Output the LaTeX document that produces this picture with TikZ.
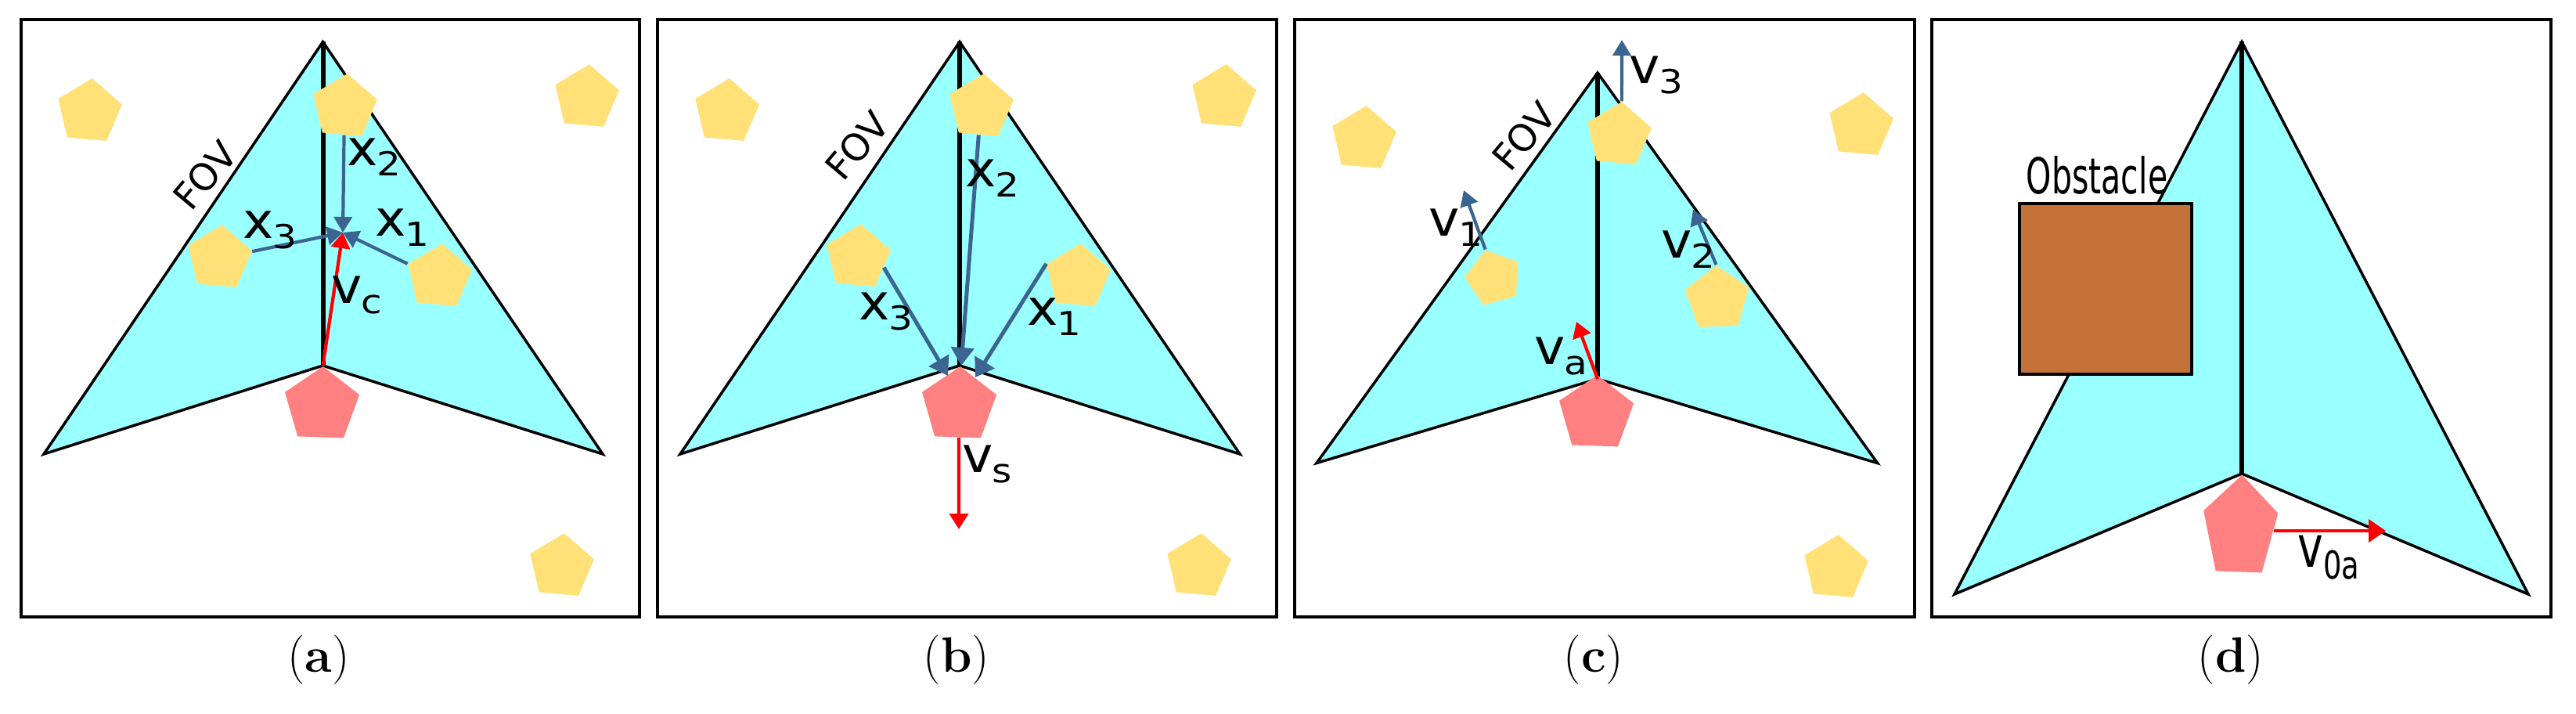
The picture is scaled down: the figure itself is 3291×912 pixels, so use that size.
\documentclass[tikz,border=0pt]{standalone}
\usepackage{fontspec}
\usepackage{xcolor}
\usetikzlibrary{shapes.geometric, arrows.meta}
\newfontfamily\labelfont{DejaVu Sans}
\definecolor{fovcyan}{RGB}{153,255,255}
\definecolor{neighboryellow}{RGB}{255,225,120}
\definecolor{agentred}{RGB}{255,128,128}
\definecolor{speedblue}{RGB}{59,101,144}
\definecolor{obstaclebrown}{RGB}{196,114,56}
\newcommand{\sublab}[2]{\scalebox{1.05}[1]{#1}\kern-0.02em\raisebox{-0.2em}{\scalebox{1.15}[1]{\fontsize{12}{12}\selectfont #2}}}
\tikzset{
    panelframe/.style={draw=black, line width=0.38mm},
    fovkite/.style={draw=black, fill=fovcyan, line width=0.35mm, line join=miter},
    fovaxis/.style={draw=black, line width=0.6mm},
    neighbor/.style={regular polygon, regular polygon sides=5, fill=neighboryellow, inner sep=0pt, minimum size=8.6mm, rotate=-5},
    agent/.style={regular polygon, regular polygon sides=5, fill=agentred, inner sep=0pt, minimum size=10mm, rotate=-2},
    speedarrow/.style={draw=speedblue, line width=0.42mm, -{Triangle[length=2mm, width=2.3mm]}},
    bigspeedarrow/.style={draw=speedblue, line width=0.5mm, -{Triangle[length=2.3mm, width=2.9mm]}},
    motionarrow/.style={draw=red, line width=0.42mm, -{Triangle[length=2mm, width=2.4mm]}},
    lab/.style={font=\labelfont\fontsize{18}{18}\selectfont, inner sep=0pt},
    fovlab/.style={font=\labelfont\fontsize{13.5}{13.5}\selectfont, inner sep=0pt, rotate=50},
    caption/.style={font=\fontsize{18}{18}\selectfont, inner sep=0pt}
}
\begin{document}
\begin{tikzpicture}[x=0.1mm, y=-0.1mm]
    \useasboundingbox (0,0) rectangle (3291,912);

    \draw[panelframe] (27,25) rectangle (817,788);
    \coordinate (aapex) at (412.5,53.5);
    \coordinate (aright) at (770,580);
    \coordinate (acenter) at (412.5,467);
    \coordinate (aleft) at (56,580);
    \coordinate (ameet) at (438,297);
    \draw[fovkite] (aapex) -- (aright) -- (acenter) -- (aleft) -- cycle;
    \draw[fovaxis] (aapex) -- (acenter);
    \node[neighbor] (aone) at (114,143) {};
    \node[neighbor] (atwo) at (749,125) {};
    \node[neighbor] (athree) at (717,724) {};
    \node[neighbor] (ax2) at (440,137) {};
    \node[neighbor] (ax3) at (280,330) {};
    \node[neighbor] (ax1) at (561,354) {};
    \node[agent] (aagent) at (411,518) {};
    \draw[speedarrow] (ax2) -- (ameet);
    \draw[speedarrow] (ax1.corner 2) -- (ameet);
    \draw[speedarrow] (ax3) -- (ameet);
    \draw[motionarrow] (acenter) -- (ameet);
    \node[lab] (alx3) at (345,294) {\sublab{x}{3}};
    \node[lab] (alx1) at (514,291) {\sublab{x}{1}};
    \node[lab] (alx2) at (478,201) {\sublab{x}{2}};
    \node[lab] (alvc) at (456,377) {\sublab{v}{c}};
    \node[fovlab] (alfov) at (262,224) {FOV};
    \node[caption] (acap) at (407,843) {({\bfseries a})};

    \draw[panelframe] (840,25) rectangle (1631,788);
    \coordinate (bapex) at (1226,53.5);
    \coordinate (bright) at (1584,580);
    \coordinate (bcenter) at (1226,467);
    \coordinate (bleft) at (869,580);
    \coordinate (bend1) at (1246,482);
    \coordinate (bend2) at (1228,467);
    \coordinate (bend3) at (1211,480);
    \coordinate (bendv) at (1225,676);
    \draw[fovkite] (bapex) -- (bright) -- (bcenter) -- (bleft) -- cycle;
    \draw[fovaxis] (bapex) -- (bcenter);
    \node[neighbor] (bone) at (928,143) {};
    \node[neighbor] (btwo) at (1563,125) {};
    \node[neighbor] (bthree) at (1531,724) {};
    \node[neighbor] (bx2) at (1253,137) {};
    \node[neighbor] (bx3) at (1096,329) {};
    \node[neighbor] (bx1) at (1377,354) {};
    \node[agent] (bagent) at (1225,518) {};
    \draw[bigspeedarrow] (bx2) -- (bend2);
    \draw[bigspeedarrow] (bx1.corner 2) -- (bend1);
    \draw[bigspeedarrow] (bx3.-16) -- (bend3);
    \draw[motionarrow] (bagent) -- (bendv);
    \node[lab] (blx3) at (1132,398) {\sublab{x}{3}};
    \node[lab] (blx1) at (1347,405) {\sublab{x}{1}};
    \node[lab] (blx2) at (1268,228) {\sublab{x}{2}};
    \node[lab] (blvs) at (1261,593) {\sublab{v}{s}};
    \node[fovlab] (blfov) at (1095,186) {FOV};
    \node[caption] (bcap) at (1222,843) {({\bfseries b})};

    \draw[panelframe] (1654,25) rectangle (2446,788);
    \coordinate (capex) at (2041,93);
    \coordinate (cright) at (2398.5,591.5);
    \coordinate (ccenter) at (2041,484);
    \coordinate (cleft) at (1682,591.5);
    \coordinate (cend1) at (1870,243);
    \coordinate (cend2) at (2163,267.5);
    \coordinate (cend3) at (2072,51);
    \coordinate (cenda) at (2014,411);
    \draw[fovkite] (capex) -- (cright) -- (ccenter) -- (cleft) -- cycle;
    \draw[fovaxis] (capex) -- (ccenter);
    \node[neighbor] (cone) at (1742,178) {};
    \node[neighbor] (ctwo) at (2377,161) {};
    \node[neighbor] (cthree) at (2345,726) {};
    \node[neighbor] (cv3) at (2068,173) {};
    \node[neighbor, minimum size=7.4mm, rotate=21] (cv1) at (1908,355) {};
    \node[neighbor, rotate=7] (cv2) at (2194,382) {};
    \node[agent] (cagent) at (2039,529) {};
    \draw[speedarrow] (cv3.corner 1) -- (cend3);
    \draw[speedarrow] (cv1.corner 1) -- (cend1);
    \draw[speedarrow] (cv2.corner 1) -- (cend2);
    \draw[motionarrow] (ccenter) -- (cenda);
    \node[lab] (clv3) at (2116,96) {\sublab{v}{3}};
    \node[lab] (clv1) at (1860,291) {\sublab{v}{1}};
    \node[lab] (clv2) at (2157,319) {\sublab{v}{2}};
    \node[lab] (clva) at (1994,455) {\sublab{v}{a}};
    \node[fovlab] (clfov) at (1947,174) {FOV};
    \node[caption] (ccap) at (2036,843) {({\bfseries c})};

    \draw[panelframe] (2468,25) rectangle (3259,788);
    \coordinate (dapex) at (2864,53.5);
    \coordinate (dright) at (3230,759);
    \coordinate (dcenter) at (2864,605);
    \coordinate (dleft) at (2497,759);
    \coordinate (dendv) at (3048,678);
    \draw[fovkite] (dapex) -- (dright) -- (dcenter) -- (dleft) -- cycle;
    \draw[fovaxis] (dapex) -- (dcenter);
    \node[agent, minimum size=13.7mm, xscale=0.73, transform shape] (dagent) at (2862,675) {};
    \draw[motionarrow, -{Triangle[length=2.2mm, width=2.9mm]}] (dagent.east |- dendv) -- (dendv);
    \draw[panelframe, fill=obstaclebrown] (2580,260) rectangle (2800,478);
    \node[lab, font=\labelfont\fontsize{18}{18}\selectfont] (dlobstacle) at (2679,224) {\scalebox{0.65}[1]{Obstacle}};
    \node[lab, font=\labelfont\fontsize{21}{21}\selectfont] (dlvoa) at (2975,712) {\scalebox{0.75}[1]{v\raisebox{-0.2em}{\fontsize{14}{14}\selectfont 0a}}};
    \node[caption] (dcap) at (2850,843) {({\bfseries d})};
\end{tikzpicture}
\end{document}
